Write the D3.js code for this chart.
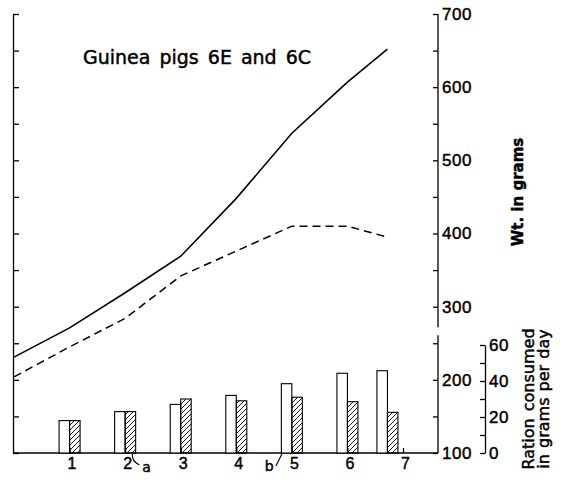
<!DOCTYPE html>
<html>
<head>
<meta charset="utf-8">
<script src="https://cdn.jsdelivr.net/npm/d3@7"></script>
<style>
  body { margin: 0; background: #fff; }
  svg { display: block; font-family: "DejaVu Sans", sans-serif; }
  .axis path, .axis line { stroke: #000; stroke-width: 1.3; }
  .axis text { fill: #000; }
  text { stroke: #000; stroke-width: 0.45; }
</style>
</head>
<body>
<div id="chart"></div>
<script>
// weights (grams) measured weekly, last point a little before week 7
const weeks = [0, 1, 2, 3, 4, 5, 6, 6.72];
const weight6E = [231, 271, 319, 369, 448, 537, 607, 652];
const weight6C = [204, 245, 284, 342, 376, 410, 410, 395];

// ration consumed, grams per day
const barWeeks = [1, 2, 3, 4, 5, 6, 6.72];
const ration6E = [18, 23, 27, 32, 38.5, 44.3, 45.7];
const ration6C = [18, 23, 30, 29, 31, 28.5, 22.6];

const weekTicks = [1, 2, 3, 4, 5, 6, 7];
const weightTicks = [100, 200, 300, 400, 500, 600, 700];
const rationTicks = [0, 20, 40, 60];

const width = 561, height = 483;
const leftX = 13, wtAxisX = 438, ratAxisX = 485;
const barW = 10.5;

const svg = d3.select("#chart").append("svg")
  .attr("width", width)
  .attr("height", height);

const x = d3.scaleLinear().domain([0, 7]).range([14, 403]);
const yW = d3.scaleLinear().domain([100, 700]).range([453, 14]);
const yR = d3.scaleLinear().domain([0, 60]).range([453, 345]);

// hatch for the second ration bars
svg.append("defs").append("pattern")
  .attr("id", "hatch")
  .attr("patternUnits", "userSpaceOnUse")
  .attr("width", 5).attr("height", 5)
  .append("path")
  .attr("d", "M-1,1 l2,-2 M0,5 l5,-5 M4,6 l2,-2")
  .attr("stroke", "#000")
  .attr("stroke-width", 0.9);

const wtMinor = d3.range(100, 701, 50);

// left axis: ticks only, pointing inward
svg.append("g")
  .attr("class", "axis")
  .attr("transform", `translate(${leftX},0)`)
  .call(d3.axisRight(yW).tickValues(wtMinor).tickFormat("").tickSize(6).tickSizeOuter(0));

// weight axis on the right: ticks pointing left, labels right, broken near 270
const wtAxis = svg.append("g")
  .attr("class", "axis")
  .attr("transform", `translate(${wtAxisX},0)`);
wtAxis.call(d3.axisLeft(yW).tickValues(wtMinor).tickFormat("").tickSize(5).tickSizeOuter(0));
wtAxis.select(".domain").remove();
wtAxis.append("line").attr("x1", 0).attr("x2", 0).attr("y1", yW(700)).attr("y2", yW(272))
  .attr("stroke", "#000").attr("stroke-width", 1.3);
wtAxis.append("line").attr("x1", 0).attr("x2", 0).attr("y1", yW(261)).attr("y2", yW(100))
  .attr("stroke", "#000").attr("stroke-width", 1.3);

const wtLabels = svg.append("g")
  .attr("class", "axis")
  .attr("transform", `translate(${wtAxisX},0)`)
  .call(d3.axisRight(yW).tickValues(weightTicks).tickSize(0).tickPadding(4));
wtLabels.select(".domain").remove();
wtLabels.selectAll("text").attr("font-size", 17).attr("letter-spacing", 0.6);

// ration axis
svg.append("g")
  .attr("class", "axis")
  .attr("transform", `translate(${ratAxisX},0)`)
  .call(d3.axisLeft(yR).tickValues(d3.range(0, 61, 10)).tickFormat("").tickSize(5).tickSizeOuter(0));
const ratLabels = svg.append("g")
  .attr("class", "axis")
  .attr("transform", `translate(${ratAxisX},0)`)
  .call(d3.axisRight(yR).tickValues(rationTicks).tickSize(0).tickPadding(4));
ratLabels.select(".domain").remove();
ratLabels.selectAll("text").attr("font-size", 17).attr("letter-spacing", 0.6);

// bottom axis
const xAxis = svg.append("g")
  .attr("class", "axis")
  .attr("transform", `translate(0,${yW(100)})`)
  .call(d3.axisBottom(x).tickValues(weekTicks).tickFormat(d3.format("d")).tickSize(-5).tickPadding(5));
xAxis.select(".domain").remove();
xAxis.selectAll("text").attr("font-size", 16).attr("dx", 2);
svg.append("line")
  .attr("x1", leftX).attr("x2", wtAxisX)
  .attr("y1", yW(100)).attr("y2", yW(100))
  .attr("stroke", "#000").attr("stroke-width", 1.3);

// bars
svg.selectAll(".bar-e")
  .data(barWeeks)
  .join("rect")
  .attr("class", "bar-e")
  .attr("x", d => x(d) - barW)
  .attr("y", (d, i) => yR(ration6E[i]))
  .attr("width", barW)
  .attr("height", (d, i) => yR(0) - yR(ration6E[i]))
  .attr("fill", "#fff")
  .attr("stroke", "#000")
  .attr("stroke-width", 1.1);

svg.selectAll(".bar-c")
  .data(barWeeks)
  .join("rect")
  .attr("class", "bar-c")
  .attr("x", d => x(d))
  .attr("y", (d, i) => yR(ration6C[i]))
  .attr("width", barW)
  .attr("height", (d, i) => yR(0) - yR(ration6C[i]))
  .attr("fill", "url(#hatch)")
  .attr("stroke", "#000")
  .attr("stroke-width", 1.1);

// weight lines
const line = d3.line().x((d, i) => x(weeks[i])).y(d => yW(d));

svg.append("path")
  .datum(weight6E)
  .attr("d", line)
  .attr("fill", "none")
  .attr("stroke", "#000")
  .attr("stroke-width", 1.6);

svg.append("path")
  .datum(weight6C)
  .attr("d", line)
  .attr("fill", "none")
  .attr("stroke", "#000")
  .attr("stroke-width", 1.5)
  .attr("stroke-dasharray", "8,5");

// title
svg.append("text")
  .attr("x", 83)
  .attr("y", 64)
  .attr("font-size", 19)
  .attr("word-spacing", 3)
  .text("Guinea pigs 6E and 6C");

// axis titles
svg.append("text")
  .attr("transform", `translate(523,192) rotate(-90)`)
  .attr("text-anchor", "middle")
  .attr("font-size", 15)
  .attr("font-weight", "bold")
  .text("Wt. in grams");

svg.append("text")
  .attr("transform", `translate(534,399) rotate(-90)`)
  .attr("text-anchor", "middle")
  .attr("font-size", 16)
  .attr("word-spacing", 2)
  .text("Ration consumed");

svg.append("text")
  .attr("transform", `translate(549,399) rotate(-90)`)
  .attr("text-anchor", "middle")
  .attr("font-size", 16)
  .attr("word-spacing", 1)
  .text("in grams per day");

// annotations a and b
const base = yW(100);
svg.append("path")
  .attr("d", `M${x(2.13)},${base + 1} q-1,7 7,11`)
  .attr("fill", "none")
  .attr("stroke", "#000")
  .attr("stroke-width", 1.1);
svg.append("text")
  .attr("x", x(2.13) + 10)
  .attr("y", base + 19)
  .attr("font-size", 14)
  .text("a");

svg.append("path")
  .attr("d", `M${x(4.82) - 6},${base + 13} L${x(4.82)},${base + 1}`)
  .attr("fill", "none")
  .attr("stroke", "#000")
  .attr("stroke-width", 1.1);
svg.append("text")
  .attr("x", x(4.82) - 17)
  .attr("y", base + 18)
  .attr("font-size", 14)
  .text("b");
</script>
</body>
</html>
